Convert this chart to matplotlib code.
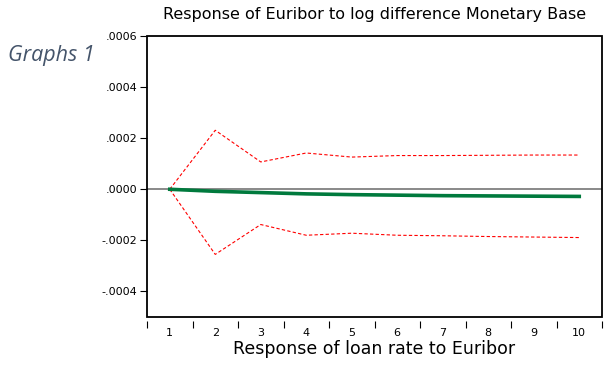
import numpy as np
import matplotlib.pyplot as plt
from matplotlib.patches import Rectangle

# impulse response and +/- 2 s.e. bands
periods = [1, 2, 3, 4, 5, 6, 7, 8, 9, 10]
response = [0.0, -0.000008, -0.000013, -0.000018, -0.000021, -0.000023, -0.000025, -0.000026, -0.000027, -0.000028]
upper = [0.0, 0.000231, 0.000107, 0.000142, 0.000126, 0.000132, 0.000132, 0.000133, 0.000134, 0.000134]
lower = [0.0, -0.000255, -0.000138, -0.000180, -0.000172, -0.000180, -0.000182, -0.000185, -0.000187, -0.000189]
yticks = [-0.0004, -0.0002, 0.0, 0.0002, 0.0004, 0.0006]
ytick_labels = ["-.0004", "-.0002", ".0000", ".0002", ".0004", ".0006"]

plt.rcParams['font.family'] = ['DejaVu Sans']

fig = plt.figure(figsize=(6.06, 3.65), dpi=100)
ax = fig.add_axes([147 / 606, 48 / 365, 455 / 606, 281 / 365])

ax.axhline(0, color='#808080', lw=1.3, zorder=1)
ax.plot(periods, upper, color='red', lw=0.8, ls=(0, (3, 2)), zorder=2)
ax.plot(periods, lower, color='red', lw=0.8, ls=(0, (3, 2)), zorder=2)
ax.plot(periods, response, color='#007A3D', lw=2.6, zorder=3)

ax.set_xlim(0.5, 10.5)
ax.set_ylim(-0.0005, 0.0006)

# frame drawn separately so the x tick axis can sit slightly below it
for s in ax.spines.values():
    s.set_visible(False)
ax.spines['bottom'].set_visible(True)
ax.spines['bottom'].set_position(('outward', 3))
ax.spines['bottom'].set_linewidth(0)
ax.add_patch(Rectangle((0, 0), 1, 1, transform=ax.transAxes, fill=False,
                       edgecolor='black', lw=1.3, clip_on=False, zorder=5))

ax.set_xticks(periods)
ax.set_xticklabels([str(p) for p in periods], fontsize=8)
ax.set_xticks(np.arange(0.5, 11, 1), minor=True)
ax.tick_params(axis='x', which='major', length=0, pad=5)
ax.tick_params(axis='x', which='minor', length=5, width=0.8, direction='out')

ax.set_yticks(yticks)
ax.set_yticklabels(ytick_labels, fontsize=8)
ax.tick_params(axis='y', length=5, width=0.8, direction='out', pad=2)

ax.set_title("Response of Euribor to log difference Monetary Base", fontsize=11.5, pad=12)
ax.set_xlabel("Response of loan rate to Euribor", fontsize=12.5, labelpad=1)

fig.text(8 / 606, 1 - 55 / 365, "Graphs 1", fontsize=15.5, style='italic',
         color='#44546A', family=['Open Sans', 'DejaVu Sans'], va='center', ha='left')

fig.savefig("out.png", dpi=100)
